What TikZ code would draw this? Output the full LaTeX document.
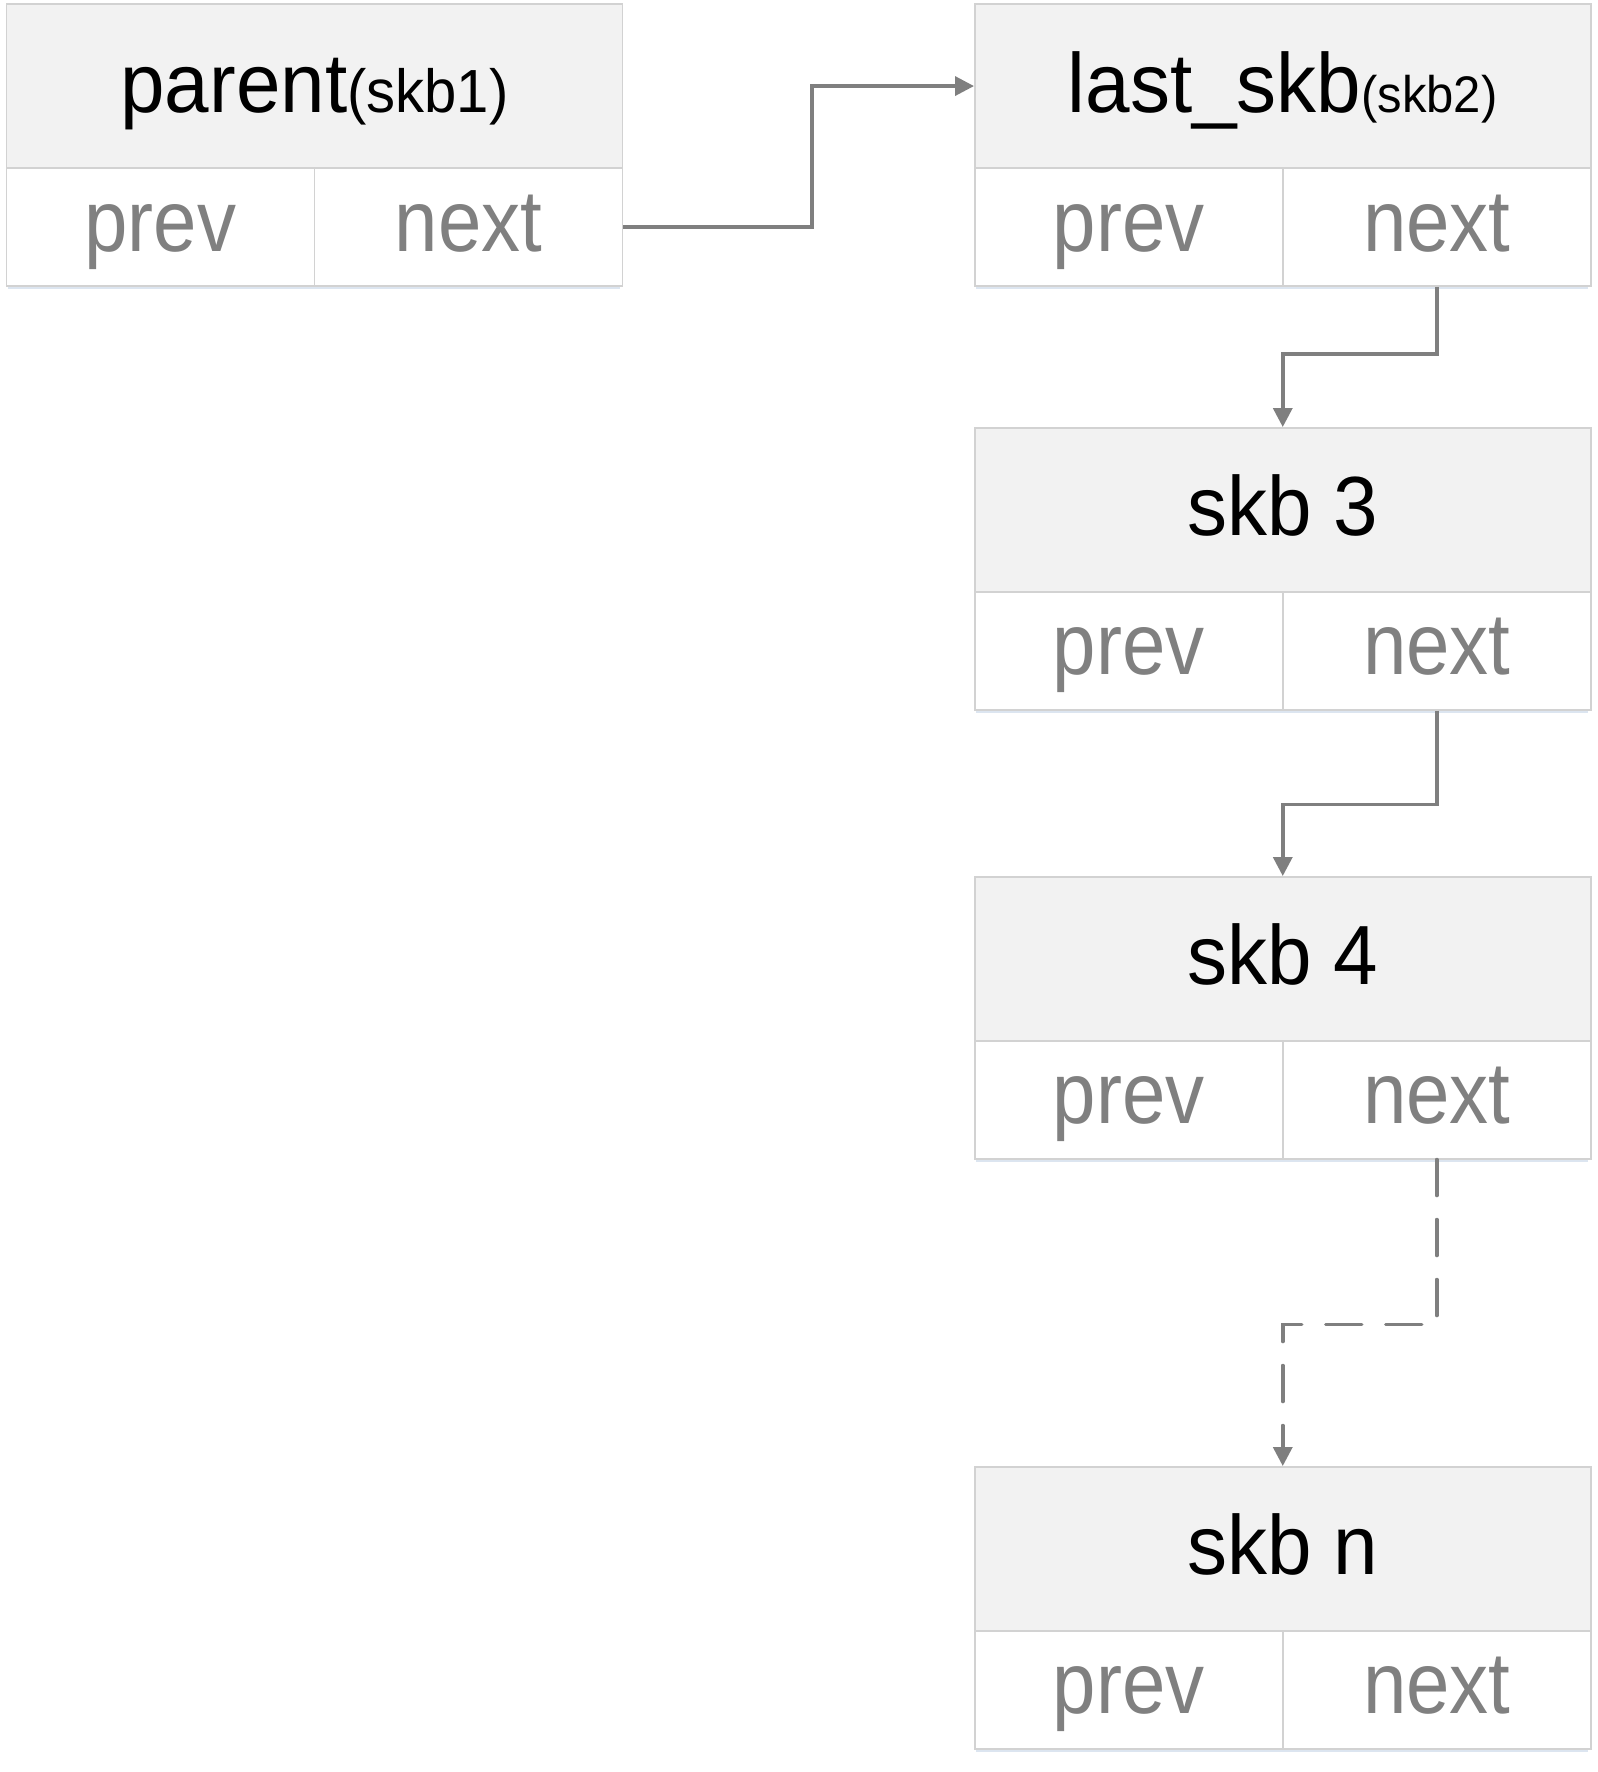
\documentclass[tikz,border=0pt]{standalone}
\usepackage{fontspec}
\usepackage{graphicx}
\setmainfont{Liberation Sans}
\usetikzlibrary{arrows.meta}
\definecolor{hdrfill}{HTML}{F2F2F2}
\definecolor{boxline}{HTML}{D2D2D2}
\definecolor{shadowc}{HTML}{DCE5F0}
\definecolor{arrowc}{HTML}{7F7F7F}
\definecolor{fldc}{HTML}{808080}
\tikzset{
  hdr/.style={anchor=north west, minimum width=616pt, minimum height=164pt, inner sep=0pt,
    fill=hdrfill, draw=boxline, line width=1.5pt},
  cell/.style={anchor=north west, minimum width=308pt, minimum height=118pt, inner sep=0pt,
    fill=white, draw=boxline, line width=1.5pt},
  ttl/.style={anchor=base, inner sep=0pt, text=black,
    font=\fontsize{80}{96}\selectfont},
  fld/.style={anchor=base, inner sep=0pt, text=fldc,
    font=\fontsize{78}{94}\selectfont},
  conn/.style={draw=arrowc, line width=3.5pt, -{Triangle[length=19pt,width=19pt]}},
  dashconn/.style={conn, dash pattern=on 36pt off 24pt, line cap=round},
  shadowline/.style={draw=shadowc, line width=3pt}
}
\newcommand\skbbox[4]{%
  \draw[shadowline] (#2+2,#3+284) -- (#2+614,#3+284);
  \node[hdr] (#1h) at (#2,#3) {};
  \node[cell] (#1p) at (#2,#3+164) {};
  \node[cell] (#1n) at (#2+308,#3+164) {};
  \node[ttl] (#1t) at ([yshift=-26pt]#1h.center) {\scalebox{1}[1.05]{#4}};
  \node[fld] (#1pt) at ([yshift=-24pt]#1p.center) {\scalebox{1}[1.12]{prev}};
  \node[fld] (#1nt) at ([yshift=-24pt]#1n.center) {\scalebox{1}[1.12]{next}};
}
\begin{document}
\begin{tikzpicture}[x=1pt,y=-1pt]
\fill[white] (0,0) rectangle (1598,1772);
\useasboundingbox (0,0) rectangle (1598,1772);
\skbbox{a}{5.7}{3.3}{parent{\fontsize{58}{60}\selectfont(skb1)}}
\skbbox{b}{974}{3.3}{last\_skb{\fontsize{49}{52}\selectfont(skb2)}}
\skbbox{c}{974}{427}{skb 3}
\skbbox{d}{974}{876}{skb 4}
\skbbox{e}{974}{1466}{skb n}
\draw[conn] (an.east) -- ++(189,0) |- (bh.west);
\draw[conn] (bn.south) -- ++(0,67) -| (ch.north);
\draw[conn] (cn.south) -- ++(0,94) -| (dh.north);
\draw[dashconn] (dn.south) -- ++(0,165) -| (eh.north);
\end{tikzpicture}
\end{document}
